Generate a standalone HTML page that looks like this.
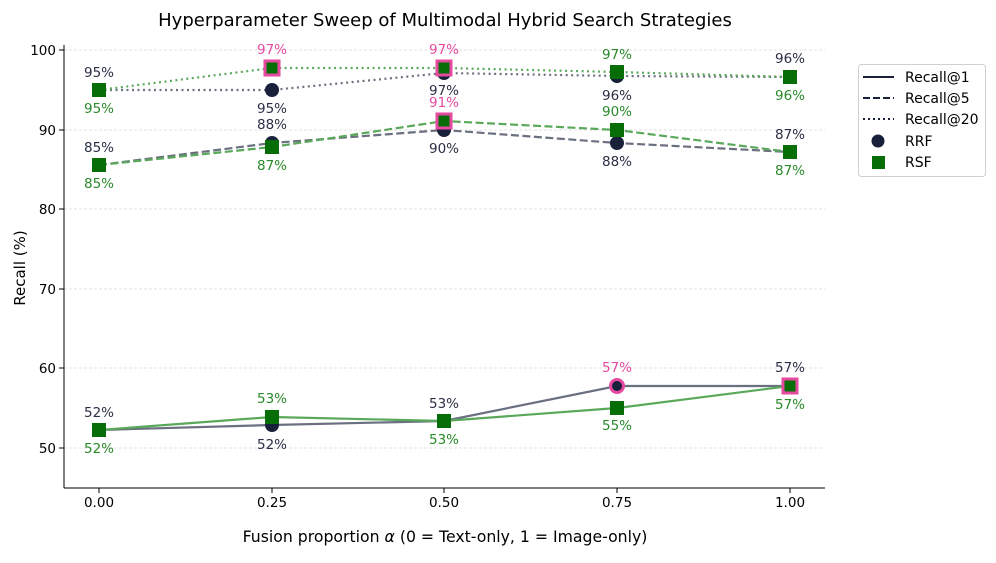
<!DOCTYPE html>
<html><head><meta charset="utf-8"><style>
html,body{margin:0;padding:0;background:#fff;}
svg{display:block;font-family:"DejaVu Sans","Liberation Sans",sans-serif;}
</style></head><body>
<svg width="996" height="563" viewBox="0 0 996 563" xmlns="http://www.w3.org/2000/svg">
<text x="445" y="26" font-size="18" text-anchor="middle" fill="#000">Hyperparameter Sweep of Multimodal Hybrid Search Strategies</text>
<!-- grid -->
<g stroke="#d8d8d8" stroke-width="0.8" stroke-dasharray="3,2">
<line x1="64" x2="825" y1="50" y2="50"/><line x1="64" x2="825" y1="130" y2="130"/>
<line x1="64" x2="825" y1="209" y2="209"/><line x1="64" x2="825" y1="289" y2="289"/>
<line x1="64" x2="825" y1="368" y2="368"/><line x1="64" x2="825" y1="448" y2="448"/>
</g>
<!-- axes -->
<line x1="64" y1="45" x2="64" y2="488" stroke="#000" stroke-width="1"/>
<line x1="64" y1="488" x2="825" y2="488" stroke="#000" stroke-width="1"/>
<g stroke="#000" stroke-width="1">
<line x1="59" x2="64" y1="50" y2="50"/><line x1="59" x2="64" y1="130" y2="130"/><line x1="59" x2="64" y1="209" y2="209"/>
<line x1="59" x2="64" y1="289" y2="289"/><line x1="59" x2="64" y1="368" y2="368"/><line x1="59" x2="64" y1="448" y2="448"/>
<line x1="99" x2="99" y1="488" y2="493"/><line x1="272" x2="272" y1="488" y2="493"/><line x1="444" x2="444" y1="488" y2="493"/>
<line x1="617" x2="617" y1="488" y2="493"/><line x1="790" x2="790" y1="488" y2="493"/>
</g>
<g font-size="13.5" fill="#000" text-anchor="end">
<text x="56" y="55">100</text><text x="56" y="135">90</text><text x="56" y="214">80</text>
<text x="56" y="294">70</text><text x="56" y="373">60</text><text x="56" y="453">50</text>
</g>
<g font-size="13.5" fill="#000" text-anchor="middle">
<text x="99" y="507">0.00</text><text x="272" y="507">0.25</text><text x="444" y="507">0.50</text>
<text x="617" y="507">0.75</text><text x="790" y="507">1.00</text>
</g>
<text x="445" y="542" font-size="15.7" text-anchor="middle">Fusion proportion <tspan font-style="italic">α</tspan> (0 = Text-only, 1 = Image-only)</text>
<text transform="translate(25,268) rotate(-90)" font-size="15" text-anchor="middle">Recall (%)</text>

<g fill="none" stroke="#6b7080" stroke-width="2.2">
<polyline points="99,430 272,425 444,421 617,386 790,386"/>
<polyline stroke-dasharray="8,3.5" points="99,165 272,143 444,130 617,143 790,152"/>
<polyline stroke-dasharray="2,3.5" points="99,90 272,90 444,73 617,76 790,77"/>
</g>
<g fill="none" stroke="#5aa85a" stroke-width="2.2">
<polyline points="99,430 272,417 444,421 617,408 790,386"/>
<polyline stroke-dasharray="8,3.5" points="99,165 272,147 444,121 617,130 790,152"/>
<polyline stroke-dasharray="2,3.5" points="99,90 272,68 444,68 617,72 790,77"/>
</g>
<g fill="#18203a">
<circle cx="99" cy="430" r="7"/><circle cx="272" cy="425" r="7"/><circle cx="444" cy="421" r="7"/><circle cx="790" cy="386" r="7"/>
<circle cx="617" cy="386" r="6.5" stroke="#e64aa0" stroke-width="3"/>
<circle cx="99" cy="165" r="7"/><circle cx="272" cy="143" r="7"/><circle cx="444" cy="130" r="7"/><circle cx="617" cy="143" r="7"/><circle cx="790" cy="152" r="7"/>
<circle cx="99" cy="90" r="7"/><circle cx="272" cy="90" r="7"/><circle cx="444" cy="73" r="7"/><circle cx="617" cy="76" r="7"/><circle cx="790" cy="77" r="7"/>
</g>
<g fill="#076e07">
<rect x="92" y="423" width="14" height="14"/><rect x="265" y="410" width="14" height="14"/><rect x="437" y="414" width="14" height="14"/><rect x="610" y="401" width="14" height="14"/>
<rect x="783" y="379" width="14" height="14" stroke="#e64aa0" stroke-width="3"/>
<rect x="92" y="158" width="14" height="14"/><rect x="265" y="140" width="14" height="14"/><rect x="437" y="114" width="14" height="14" stroke="#e64aa0" stroke-width="3"/><rect x="610" y="123" width="14" height="14"/><rect x="783" y="145" width="14" height="14"/>
<rect x="92" y="83" width="14" height="14"/><rect x="265" y="61" width="14" height="14" stroke="#e64aa0" stroke-width="3"/><rect x="437" y="61" width="14" height="14" stroke="#e64aa0" stroke-width="3"/><rect x="610" y="65" width="14" height="14"/><rect x="783" y="70" width="14" height="14"/>
</g>
<g font-size="13.5" text-anchor="middle">
<g fill="#2a2f45">
<text x="99" y="77">95%</text><text x="99" y="152">85%</text><text x="99" y="417">52%</text>
<text x="272" y="113">95%</text><text x="272" y="129">88%</text><text x="272" y="449">52%</text>
<text x="444" y="95">97%</text><text x="444" y="153">90%</text><text x="444" y="408">53%</text>
<text x="617" y="100">96%</text><text x="617" y="166">88%</text>
<text x="790" y="63">96%</text><text x="790" y="139">87%</text><text x="790" y="372">57%</text>
</g>
<g fill="#2a8a2a">
<text x="99" y="113">95%</text><text x="99" y="188">85%</text><text x="99" y="453">52%</text>
<text x="272" y="170">87%</text><text x="272" y="403">53%</text>
<text x="444" y="444">53%</text>
<text x="617" y="59">97%</text><text x="617" y="116">90%</text><text x="617" y="430">55%</text>
<text x="790" y="100">96%</text><text x="790" y="175">87%</text><text x="790" y="409">57%</text>
</g>
<g fill="#e64aa0">
<text x="272" y="54">97%</text><text x="444" y="54">97%</text><text x="444" y="107">91%</text><text x="617" y="372">57%</text>
</g>
</g>
<rect x="858.5" y="64.5" width="127" height="112" rx="3" fill="#fff" stroke="#d0d0d0"/>
<g stroke="#18203a" stroke-width="2">
<line x1="863" x2="894" y1="77" y2="77"/>
<line x1="863" x2="894" y1="98" y2="98" stroke-dasharray="7,3"/>
<line x1="863" x2="894" y1="119" y2="119" stroke-dasharray="2,3"/>
</g>
<circle cx="878" cy="141" r="6.5" fill="#18203a"/>
<rect x="872" y="156" width="13" height="13" fill="#076e07"/>
<g font-size="14" fill="#000">
<text x="905" y="82">Recall@1</text><text x="905" y="103">Recall@5</text><text x="905" y="124">Recall@20</text>
<text x="905" y="146">RRF</text><text x="905" y="167">RSF</text>
</g>
</svg>
</body></html>
